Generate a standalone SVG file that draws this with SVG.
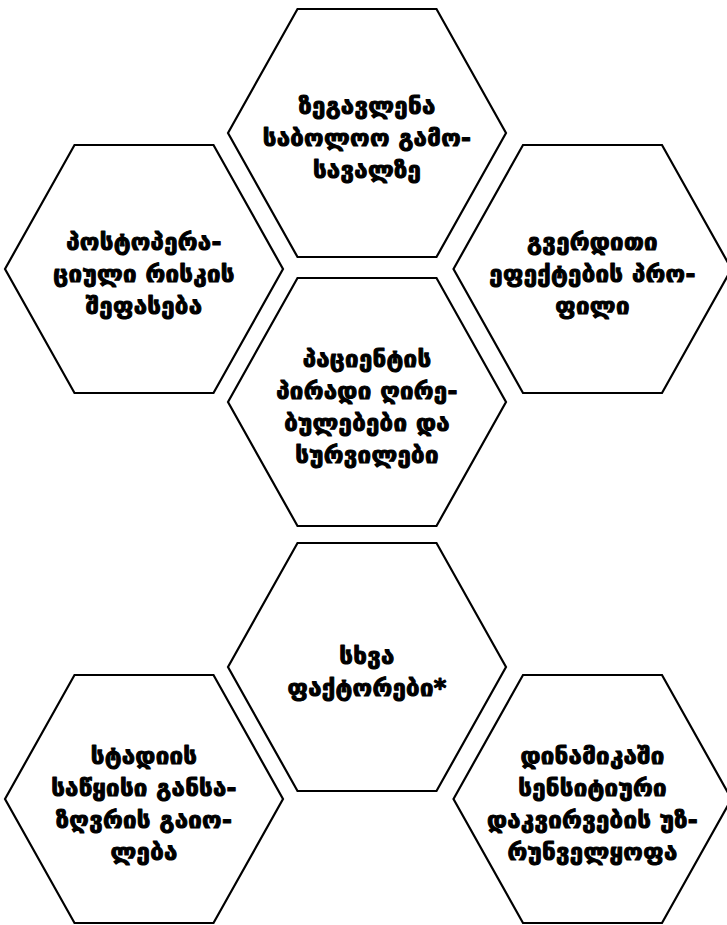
<svg xmlns="http://www.w3.org/2000/svg" xmlns:xlink="http://www.w3.org/1999/xlink" width="727" height="925" viewBox="0 0 727 925">
<style>
.hex{fill:#ffffff;stroke:#000000;stroke-width:2.2;stroke-linejoin:miter}
.t{font-family:"DejaVu Sans","Noto Sans",sans-serif;font-weight:bold;font-size:24px;letter-spacing:0.3px;fill:#000000;stroke:#000000;stroke-width:1.1px;stroke-linejoin:round;text-anchor:middle}
</style>
<defs>
<polygon id="hexshape" class="hex" points="-139,0 -69.5,-124 69.5,-124 139,0 69.5,124 -69.5,124"/>
</defs>
<rect width="727" height="925" fill="#ffffff"/>
<g id="connectors"></g>
<g id="node-top" transform="translate(367,133)">
<use xlink:href="#hexshape"/>
<text class="t"><tspan x="0" y="-19">ზეგავლენა</tspan><tspan x="0" y="13">საბოლოო გამო-</tspan><tspan x="0" y="45">სავალზე</tspan></text>
</g>
<g id="node-left" transform="translate(144,269)">
<use xlink:href="#hexshape"/>
<text class="t"><tspan x="0" y="-19">პოსტოპერა-</tspan><tspan x="0" y="13">ციული რისკის</tspan><tspan x="0" y="45">შეფასება</tspan></text>
</g>
<g id="node-right" transform="translate(592.5,269)">
<use xlink:href="#hexshape"/>
<text class="t"><tspan x="0" y="-19">გვერდითი</tspan><tspan x="0" y="13">ეფექტების პრო-</tspan><tspan x="0" y="45">ფილი</tspan></text>
</g>
<g id="node-center" transform="translate(367,402)">
<use xlink:href="#hexshape"/>
<text class="t"><tspan x="0" y="-35">პაციენტის</tspan><tspan x="0" y="-3">პირადი ღირე-</tspan><tspan x="0" y="29">ბულებები და</tspan><tspan x="0" y="61">სურვილები</tspan></text>
</g>
<g id="node-other" transform="translate(367,667)">
<use xlink:href="#hexshape"/>
<text class="t"><tspan x="0" y="-3">სხვა</tspan><tspan x="0" y="29">ფაქტორები*</tspan></text>
</g>
<g id="node-bottom-left" transform="translate(144,799)">
<use xlink:href="#hexshape"/>
<text class="t"><tspan x="0" y="-35">სტადიის</tspan><tspan x="0" y="-3">საწყისი განსა-</tspan><tspan x="0" y="29">ზღვრის გაიო-</tspan><tspan x="0" y="61">ლება</tspan></text>
</g>
<g id="node-bottom-right" transform="translate(592.5,799)">
<use xlink:href="#hexshape"/>
<text class="t"><tspan x="0" y="-35">დინამიკაში</tspan><tspan x="0" y="-3">სენსიტიური</tspan><tspan x="0" y="29">დაკვირვების უზ-</tspan><tspan x="0" y="61">რუნველყოფა</tspan></text>
</g>
</svg>
